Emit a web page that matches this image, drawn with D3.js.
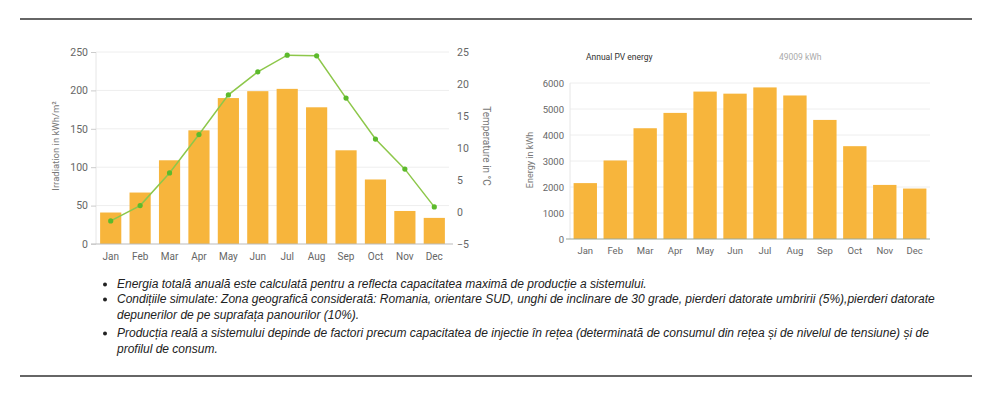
<!DOCTYPE html>
<meta charset="utf-8">
<style>
  body { margin: 0; background: #fff; }
  svg text { font-family: Roboto, "Noto Sans", sans-serif; }
  .tick text { fill: #666; }
  .grid line { stroke: #eee; }
  .notes text { font-family: "Liberation Sans", Arial, sans-serif; font-style: italic; font-size: 12px; fill: #222; }
</style>
<svg width="994" height="398"></svg>
<script src="https://d3js.org/d3.v7.min.js"></script>
<script>
  // data
  var months = ["Jan", "Feb", "Mar", "Apr", "May", "Jun", "Jul", "Aug", "Sep", "Oct", "Nov", "Dec"];
  var irradiation = [41, 67, 109, 148, 190, 199, 202, 178, 122, 84, 43, 34];
  var temperature = [-1.4, 1.0, 6.1, 12.1, 18.3, 21.9, 24.5, 24.4, 17.8, 11.4, 6.7, 0.8];
  var pvEnergy = [2150, 3020, 4260, 4850, 5670, 5590, 5830, 5520, 4580, 3570, 2080, 1940];
  var irrTicks = [0, 50, 100, 150, 200, 250];
  var tempTicks = [-5, 0, 5, 10, 15, 20, 25];
  var energyTicks = [0, 1000, 2000, 3000, 4000, 5000, 6000];
  var notes = [
    ["Energia totală anuală este calculată pentru a reflecta capacitatea maximă de producție a sistemului."],
    ["Condițiile simulate: Zona geografică considerată: Romania, orientare SUD, unghi de inclinare de 30 grade, pierderi datorate umbririi (5%),pierderi datorate",
     "depunerilor de pe suprafața panourilor (10%)."],
    ["Producția reală a sistemului depinde de factori precum capacitatea de injectie în rețea (determinată de consumul din rețea și de nivelul de tensiune) și de",
     "profilul de consum."]
  ];

  var barColor = "#f7b53c";
  var svg = d3.select("svg");

  // frame lines
  svg.append("line").attr("x1", 20).attr("x2", 972).attr("y1", 19).attr("y2", 19)
    .attr("stroke", "#666").attr("stroke-width", 2);
  svg.append("line").attr("x1", 20).attr("x2", 972).attr("y1", 376).attr("y2", 376)
    .attr("stroke", "#666").attr("stroke-width", 2);

  /* ---------------- left chart ---------------- */
  var L = {left: 96, right: 449, top: 52, bottom: 244};
  var x1 = d3.scaleBand().domain(months).range([L.left, L.right]).paddingInner(0.28).paddingOuter(0.14);
  var yIrr = d3.scaleLinear().domain([0, 250]).range([L.bottom, L.top]);
  var yTemp = d3.scaleLinear().domain([-5, 25]).range([L.bottom, L.top]);

  var g1 = svg.append("g");
  g1.append("g").attr("class", "grid")
    .selectAll("line").data(irrTicks.slice(1)).enter().append("line")
    .attr("x1", L.left).attr("x2", L.right)
    .attr("y1", function(d) { return yIrr(d); }).attr("y2", function(d) { return yIrr(d); });
  g1.append("line").attr("x1", L.left).attr("x2", L.left).attr("y1", L.top).attr("y2", L.bottom).attr("stroke", "#e6e6e6");

  g1.selectAll("rect").data(irradiation).enter().append("rect")
    .attr("x", function(d, i) { return x1(months[i]); })
    .attr("width", x1.bandwidth())
    .attr("y", function(d) { return yIrr(d); })
    .attr("height", function(d) { return yIrr(0) - yIrr(d); })
    .attr("fill", barColor);

  g1.append("line").attr("x1", L.left - 5).attr("x2", L.right + 4).attr("y1", L.bottom).attr("y2", L.bottom).attr("stroke", "#bbb");

  var yAxisL = g1.append("g").attr("transform", "translate(" + L.left + ",0)")
    .call(d3.axisLeft(yIrr).tickValues(irrTicks).tickSize(5).tickPadding(3));
  yAxisL.select(".domain").remove();
  yAxisL.selectAll(".tick line").attr("stroke", "#ccc");
  yAxisL.selectAll("text").attr("font-size", 10.5);

  var yAxisR = g1.append("g").attr("transform", "translate(" + L.right + ",0)")
    .call(d3.axisRight(yTemp).tickValues(tempTicks).tickSize(0).tickPadding(8));
  yAxisR.select(".domain").remove();
  yAxisR.selectAll("text").attr("font-size", 10.5);

  var xAxisL = g1.append("g").attr("transform", "translate(0," + L.bottom + ")")
    .call(d3.axisBottom(x1).tickSize(0).tickPadding(9));
  xAxisL.select(".domain").remove();
  xAxisL.selectAll("text").attr("font-size", 10);

  var line = d3.line()
    .x(function(d, i) { return x1(months[i]) + x1.bandwidth() / 2; })
    .y(function(d) { return yTemp(d); });
  g1.append("path").datum(temperature).attr("d", line)
    .attr("fill", "none").attr("stroke", "#8dc74a").attr("stroke-width", 1.5);
  g1.selectAll("circle").data(temperature).enter().append("circle")
    .attr("cx", function(d, i) { return x1(months[i]) + x1.bandwidth() / 2; })
    .attr("cy", function(d) { return yTemp(d); })
    .attr("r", 2.6).attr("fill", "#5cba2c");

  g1.append("text").attr("transform", "translate(59,146) rotate(-90)")
    .attr("text-anchor", "middle").attr("font-size", 9.5).attr("fill", "#777")
    .text("Irradiation in kWh/m²");
  g1.append("text").attr("transform", "translate(483,146) rotate(90)")
    .attr("text-anchor", "middle").attr("font-size", 10).attr("fill", "#777")
    .text("Temperature in °C");

  /* ---------------- right chart ---------------- */
  var R = {left: 570, right: 930, top: 83, bottom: 239};
  var x2 = d3.scaleBand().domain(months).range([R.left, R.right]).paddingInner(0.22).paddingOuter(0.12);
  var yEn = d3.scaleLinear().domain([0, 6000]).range([R.bottom, R.top]);

  var g2 = svg.append("g");
  g2.append("g").attr("class", "grid")
    .selectAll("line").data(energyTicks.slice(1)).enter().append("line")
    .attr("x1", R.left).attr("x2", R.right)
    .attr("y1", function(d) { return yEn(d); }).attr("y2", function(d) { return yEn(d); });
  g2.append("line").attr("x1", R.left).attr("x2", R.left).attr("y1", R.top).attr("y2", R.bottom).attr("stroke", "#e6e6e6");

  g2.selectAll("rect").data(pvEnergy).enter().append("rect")
    .attr("x", function(d, i) { return x2(months[i]); })
    .attr("width", x2.bandwidth())
    .attr("y", function(d) { return yEn(d); })
    .attr("height", function(d) { return yEn(0) - yEn(d); })
    .attr("fill", barColor);

  g2.append("line").attr("x1", R.left - 4).attr("x2", R.right).attr("y1", R.bottom).attr("y2", R.bottom).attr("stroke", "#9aa79a");

  var yAxis2 = g2.append("g").attr("transform", "translate(" + R.left + ",0)")
    .call(d3.axisLeft(yEn).tickValues(energyTicks).tickFormat(d3.format("d")).tickSize(0).tickPadding(6));
  yAxis2.select(".domain").remove();
  yAxis2.selectAll("text").attr("font-size", 9.5);

  var xAxis2 = g2.append("g").attr("transform", "translate(0," + R.bottom + ")")
    .call(d3.axisBottom(x2).tickSize(0).tickPadding(8));
  xAxis2.select(".domain").remove();
  xAxis2.selectAll("text").attr("font-size", 9.5);

  g2.append("text").attr("transform", "translate(533,160) rotate(-90)")
    .attr("text-anchor", "middle").attr("font-size", 9).attr("fill", "#777")
    .text("Energy in kWh");
  g2.append("text").attr("x", 586).attr("y", 60).attr("font-size", 8.5).attr("fill", "#333")
    .text("Annual PV energy");
  g2.append("text").attr("x", 779).attr("y", 60).attr("font-size", 8.5).attr("fill", "#aaa")
    .text(d3.format("d")(49009) + " kWh");

  /* ---------------- notes ---------------- */
  var gn = svg.append("g").attr("class", "notes");
  var lineY = [288, 303, 319, 337, 353];
  var k = 0;
  notes.forEach(function(n) {
    gn.append("circle").attr("cx", 105).attr("cy", lineY[k] - 3.5).attr("r", 2).attr("fill", "#222");
    n.forEach(function(t) {
      gn.append("text").attr("x", 117).attr("y", lineY[k]).text(t);
      k++;
    });
  });
</script>
